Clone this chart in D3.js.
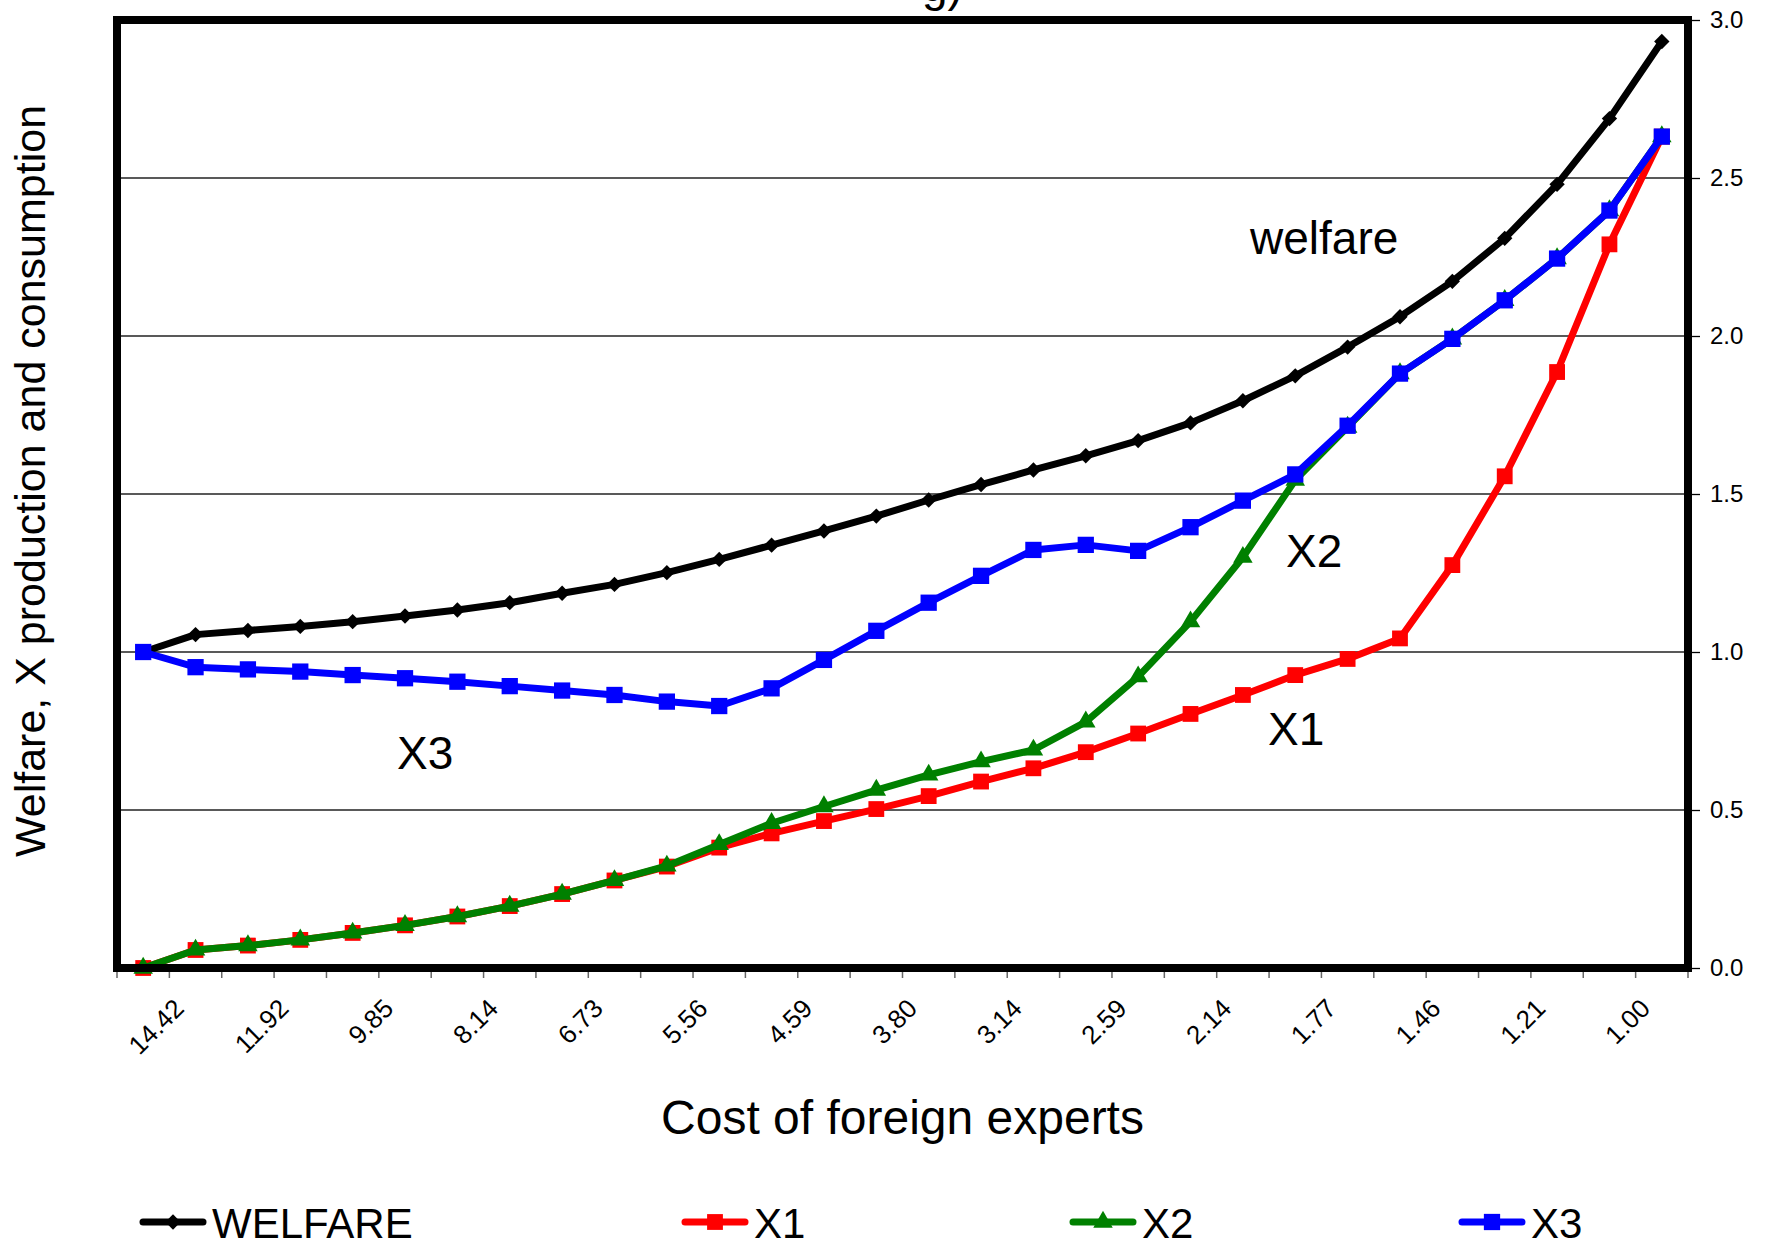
<!DOCTYPE html>
<html>
<head>
<meta charset="utf-8">
<script src="https://cdn.jsdelivr.net/npm/d3@7"></script>
<style>
  body { margin: 0; background: #fff; }
  text { font-family: "Liberation Sans", Arial, sans-serif; fill: #000; }
</style>
</head>
<body>
<div id="chart"></div>
<script>
// categories: cost of foreign experts
var costLabels = ["15.86","14.42","13.11","11.92","10.83","9.85","8.95","8.14","7.40","6.73",
  "6.12","5.56","5.05","4.59","4.18","3.80","3.45","3.14","2.85","2.59",
  "2.36","2.14","1.95","1.77","1.61","1.46","1.33","1.21","1.10","1.00"];

// series values
var welfare = [1.000,1.055,1.068,1.081,1.096,1.114,1.133,1.156,1.186,1.214,
  1.251,1.293,1.338,1.383,1.430,1.481,1.530,1.576,1.621,1.669,
  1.725,1.795,1.874,1.965,2.061,2.173,2.309,2.480,2.688,2.932];
var x1 = [0.000,0.057,0.071,0.089,0.111,0.135,0.163,0.196,0.234,0.277,
  0.321,0.381,0.426,0.465,0.503,0.544,0.590,0.632,0.683,0.742,
  0.804,0.864,0.927,0.978,1.043,1.275,1.556,1.886,2.290,2.631];
var x2 = [0.000,0.057,0.071,0.089,0.111,0.135,0.163,0.196,0.234,0.277,
  0.323,0.391,0.458,0.511,0.563,0.611,0.653,0.690,0.779,0.922,
  1.096,1.300,1.544,1.712,1.881,1.991,2.113,2.245,2.397,2.631];
var x3 = [1.000,0.952,0.945,0.938,0.927,0.917,0.906,0.892,0.878,0.864,
  0.843,0.829,0.885,0.975,1.067,1.156,1.241,1.323,1.339,1.320,
  1.395,1.479,1.562,1.716,1.881,1.991,2.113,2.245,2.397,2.631];

var yTicks = [0, 0.5, 1.0, 1.5, 2.0, 2.5, 3.0];

var series = [
  {name: "WELFARE", values: welfare, color: "#000000", symbol: d3.symbolDiamond2, size: 150},
  {name: "X1", values: x1, color: "#ff0000", symbol: d3.symbolSquare, size: 250},
  {name: "X2", values: x2, color: "#008000", symbol: d3.symbolTriangle, size: 165},
  {name: "X3", values: x3, color: "#0000ff", symbol: d3.symbolSquare, size: 265}
];

var annotations = [
  {text: "welfare", x: 1250, y: 254},
  {text: "X2", x: 1286, y: 567},
  {text: "X1", x: 1268, y: 745},
  {text: "X3", x: 397, y: 769}
];

var W = 1767, H = 1246;
var plot = {left: 117, right: 1688, top: 20, bottom: 968};

var svg = d3.select("#chart")
  .append("svg")
    .attr("width", W)
    .attr("height", H);

// scales
var x = d3.scaleBand()
  .domain(d3.range(costLabels.length))
  .range([plot.left, plot.right])
  .paddingInner(0).paddingOuter(0);
var bw = x.bandwidth();
var cx = function(i) { return x(i) + bw / 2; };

var y = d3.scaleLinear()
  .domain([0, 3])
  .range([plot.bottom, plot.top]);

// title fragment cut off at the top edge
svg.append("text")
  .attr("x", 922).attr("y", 1)
  .attr("font-size", 46)
  .text("g)");

// gridlines
svg.append("g")
  .selectAll("line")
  .data(yTicks.slice(1, -1))
  .enter()
  .append("line")
    .attr("x1", plot.left).attr("x2", plot.right)
    .attr("y1", function(d) { return y(d); })
    .attr("y2", function(d) { return y(d); })
    .attr("stroke", "#222")
    .attr("stroke-width", 1.3);

// right Y axis
var yAxis = svg.append("g")
  .attr("transform", "translate(" + (plot.right + 4) + ",0)")
  .call(d3.axisRight(y).tickValues(yTicks).tickFormat(d3.format(".1f")).tickSize(8).tickPadding(10));
yAxis.select(".domain").remove();
yAxis.selectAll(".tick line").attr("stroke", "#000").attr("stroke-width", 1.3);
yAxis.selectAll(".tick text")
  .attr("font-size", 24)
  .attr("font-family", "Liberation Sans, Arial, sans-serif")
  .attr("fill", "#000");

// X axis ticks at category boundaries
var bounds = d3.range(costLabels.length + 1);
svg.append("g")
  .selectAll("line")
  .data(bounds)
  .enter()
  .append("line")
    .attr("x1", function(i) { return plot.left + i * bw; })
    .attr("x2", function(i) { return plot.left + i * bw; })
    .attr("y1", plot.bottom + 4)
    .attr("y2", plot.bottom + 10)
    .attr("stroke", "#666")
    .attr("stroke-width", 1.5);

// X tick labels, every other category, rotated
svg.append("g")
  .selectAll("text")
  .data(costLabels.map(function(d, i) { return {label: d, i: i}; })
    .filter(function(d) { return d.i % 2 === 1; }))
  .enter()
  .append("text")
    .attr("transform", function(d) {
      return "translate(" + (cx(d.i) - 10) + "," + (plot.bottom + 42) + ") rotate(-45)";
    })
    .attr("text-anchor", "end")
    .attr("font-size", 26)
    .text(function(d) { return d.label; });

// lines and markers
var line = d3.line()
  .x(function(d, i) { return cx(i); })
  .y(function(d) { return y(d); });

series.forEach(function(s) {
  svg.append("path")
    .datum(s.values)
    .attr("fill", "none")
    .attr("stroke", s.color)
    .attr("stroke-width", 7)
    .attr("stroke-linejoin", "round")
    .attr("stroke-linecap", "round")
    .attr("d", line);
  svg.append("g")
    .selectAll("path")
    .data(s.values)
    .enter()
    .append("path")
      .attr("transform", function(d, i) { return "translate(" + cx(i) + "," + y(d) + ")"; })
      .attr("d", d3.symbol().type(s.symbol).size(s.size))
      .attr("fill", s.color);
});

// plot frame
svg.append("rect")
  .attr("x", plot.left).attr("y", plot.top)
  .attr("width", plot.right - plot.left)
  .attr("height", plot.bottom - plot.top)
  .attr("fill", "none")
  .attr("stroke", "#000")
  .attr("stroke-width", 8);

// in-chart labels
svg.append("g")
  .selectAll("text")
  .data(annotations)
  .enter()
  .append("text")
    .attr("x", function(d) { return d.x; })
    .attr("y", function(d) { return d.y; })
    .attr("font-size", 46)
    .text(function(d) { return d.text; });

// axis titles
svg.append("text")
  .attr("x", (plot.left + plot.right) / 2)
  .attr("y", 1134)
  .attr("text-anchor", "middle")
  .attr("font-size", 48)
  .text("Cost of foreign experts");

svg.append("text")
  .attr("transform", "translate(45,481) rotate(-90)")
  .attr("text-anchor", "middle")
  .attr("font-size", 43)
  .text("Welfare, X production and consumption");

// legend
var legendX = [143, 685, 1073, 1462];
var legend = svg.append("g")
  .selectAll("g")
  .data(series)
  .enter()
  .append("g")
    .attr("transform", function(d, i) { return "translate(" + legendX[i] + ",1222)"; });
legend.append("line")
  .attr("x1", 0).attr("x2", 60)
  .attr("stroke", function(d) { return d.color; })
  .attr("stroke-width", 7)
  .attr("stroke-linecap", "round");
legend.append("path")
  .attr("transform", "translate(30,0)")
  .attr("d", function(d) { return d3.symbol().type(d.symbol).size(d.size)(); })
  .attr("fill", function(d) { return d.color; });
legend.append("text")
  .attr("x", 69)
  .attr("y", 16)
  .attr("font-size", 42)
  .text(function(d) { return d.name; });
</script>
</body>
</html>
